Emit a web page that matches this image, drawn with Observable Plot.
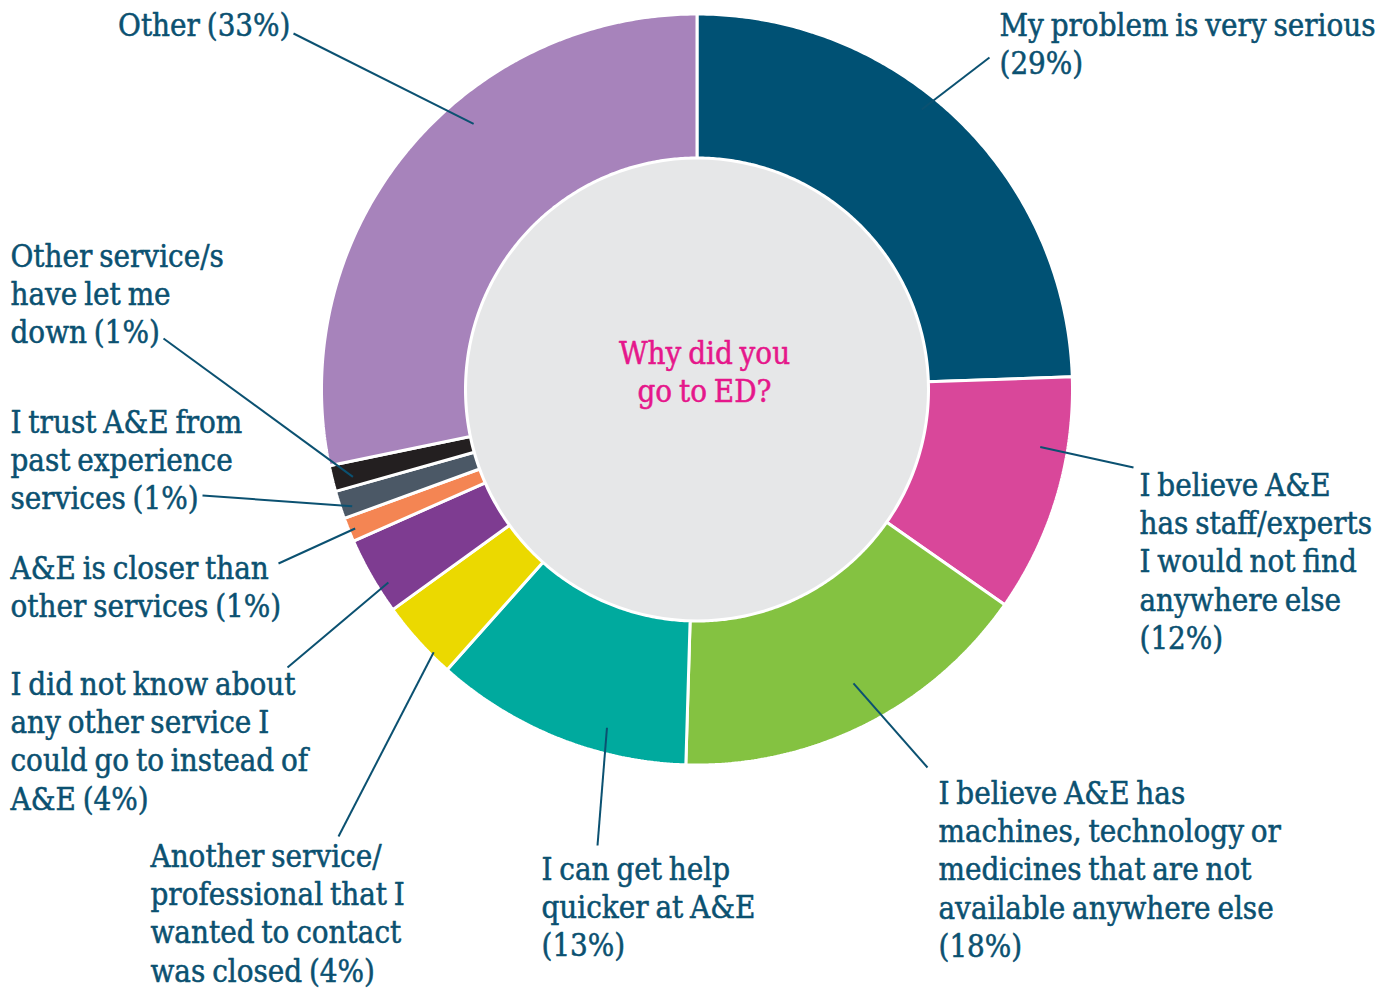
<!DOCTYPE html>
<html>
<head>
<meta charset="utf-8">
<script src="https://cdn.jsdelivr.net/npm/d3@7"></script>
<script src="https://cdn.jsdelivr.net/npm/@observablehq/plot@0.6"></script>
<style>
  html, body { margin: 0; padding: 0; background: #ffffff; }
  #chart svg { display: block; }
</style>
</head>
<body>
<div id="chart"></div>
<script>
// ---------- data ----------
const categories = [
  "My problem is very serious",
  "Staff/experts",
  "Machines, technology or medicines",
  "Quicker help",
  "Another service closed",
  "Did not know other service",
  "A&E is closer",
  "Trust A&E",
  "Other services let me down",
  "Other"
];
// share of responses as drawn (angles)
const values = [28.4, 11.9, 18.3, 12.9, 4.0, 3.9, 1.2, 1.4, 1.3, 32.8];
const labelTexts = [
  "My problem is very serious\n(29%)",
  "I believe A&E\nhas staff/experts\nI would not find\nanywhere else\n(12%)",
  "I believe A&E has\nmachines, technology or\nmedicines that are not\navailable anywhere else\n(18%)",
  "I can get help\nquicker at A&E\n(13%)",
  "Another service/\nprofessional that I\nwanted to contact\nwas closed (4%)",
  "I did not know about\nany other service I\ncould go to instead of\nA&E (4%)",
  "A&E is closer than\nother services (1%)",
  "I trust A&E from\npast experience\nservices (1%)",
  "Other service/s\nhave let me\ndown (1%)",
  "Other (33%)"
];
const colors = ["#005174", "#d9479a", "#84c241", "#00aa9e", "#ebd900", "#7e3c91", "#f48553", "#4b5866", "#231f20", "#a783bb"];
const centerTitle = "Why did you\ngo to ED?";

// ---------- layout (pixels) ----------
const W = 1396, H = 989;
const CX = 696.5, CY = 389;
const R_OUT = 375.5, R_IN = 231.5, R_HOLE = 230;
const FONT = "'DejaVu Serif Condensed', 'DejaVu Serif', serif";
const FS = 31, LH = 1.24;
const TEXT = "#0b5171";
// label anchor: x, first-line baseline, text anchor
const labelX = [999, 1139, 938, 541, 150, 10, 10, 10, 10, 290];
const labelBaseline = [35, 495, 803, 879, 866, 694, 578, 432, 266, 35];
const labelAnchor = ["start", "start", "start", "start", "start", "start", "start", "start", "start", "end"];
// leader: position inside slice (fraction of slice angle, radius) and outer end
const leaderFrac = [0.44, 0.31, 0.476, 0.33, 0.27, 0.32, 0.45, 0.32, 0.37, 0.606];
const leaderR = [359, 348, 333, 350, 372, 364, 369, 364, 355, 347];
const leaderEndX = [989, 1133, 927, 597, 338, 287, 278, 202, 163, 293];
const leaderEndY = [57, 467, 767, 845, 836, 667, 563, 495, 338, 33];

// ---------- derived ----------
const arcs = d3.pie().sort(null).value(d => d)(values);
const polar = (a, r) => ({x: CX + r * Math.sin(a), y: CY - r * Math.cos(a)});

const slicePts = [];
arcs.forEach((a, i) => {
  const n = Math.max(4, Math.ceil((a.endAngle - a.startAngle) / (Math.PI / 360)));
  for (let k = 0; k <= n; k++) {
    const t = a.startAngle + (a.endAngle - a.startAngle) * k / n;
    slicePts.push({cat: categories[i], ...polar(t, R_OUT)});
  }
  for (let k = n; k >= 0; k--) {
    const t = a.startAngle + (a.endAngle - a.startAngle) * k / n;
    slicePts.push({cat: categories[i], ...polar(t, R_IN)});
  }
});

const leaders = arcs.map((a, i) => {
  const p = polar(a.startAngle + (a.endAngle - a.startAngle) * leaderFrac[i], leaderR[i]);
  return {x1: p.x, y1: p.y, x2: leaderEndX[i], y2: leaderEndY[i]};
});

const labelData = categories.map((c, i) => {
  const n = labelTexts[i].split("\n").length;
  return {
    text: labelTexts[i],
    x: labelX[i],
    y: labelBaseline[i] + (n - 1) * LH * FS,
    anchor: labelAnchor[i]
  };
});

const textOpts = {x: "x", y: "y", text: "text", lineAnchor: "bottom", lineHeight: LH, fontSize: FS, fontFamily: FONT, fill: TEXT, stroke: TEXT, strokeWidth: 0.5, paintOrder: "fill"};

const chart = Plot.plot({
  width: W, height: H,
  margin: 0,
  x: {domain: [0, W], range: [0, W], axis: null},
  y: {domain: [0, H], range: [0, H], axis: null},
  color: {domain: categories, range: colors},
  style: {fontFamily: FONT, background: "#ffffff", wordSpacing: "-2px"},
  marks: [
    Plot.line(slicePts, {x: "x", y: "y", z: "cat", fill: "cat", stroke: "#ffffff", strokeWidth: 3, curve: "linear-closed", strokeLinejoin: "miter"}),
    Plot.dot([{x: CX, y: CY}], {x: "x", y: "y", r: R_HOLE, fill: "#e6e7e8", stroke: null}),
    Plot.link(leaders, {x1: "x1", y1: "y1", x2: "x2", y2: "y2", stroke: TEXT, strokeWidth: 2}),
    Plot.text(labelData.filter(d => d.anchor === "start"), {...textOpts, textAnchor: "start"}),
    Plot.text(labelData.filter(d => d.anchor === "end"), {...textOpts, textAnchor: "end"}),
    Plot.text([{x: 704, y: 363.5 + LH * FS, text: centerTitle}], {...textOpts, textAnchor: "middle", fill: "#e5178b", stroke: "#e5178b"})
  ]
});
document.getElementById("chart").appendChild(chart);
</script>
</body>
</html>
